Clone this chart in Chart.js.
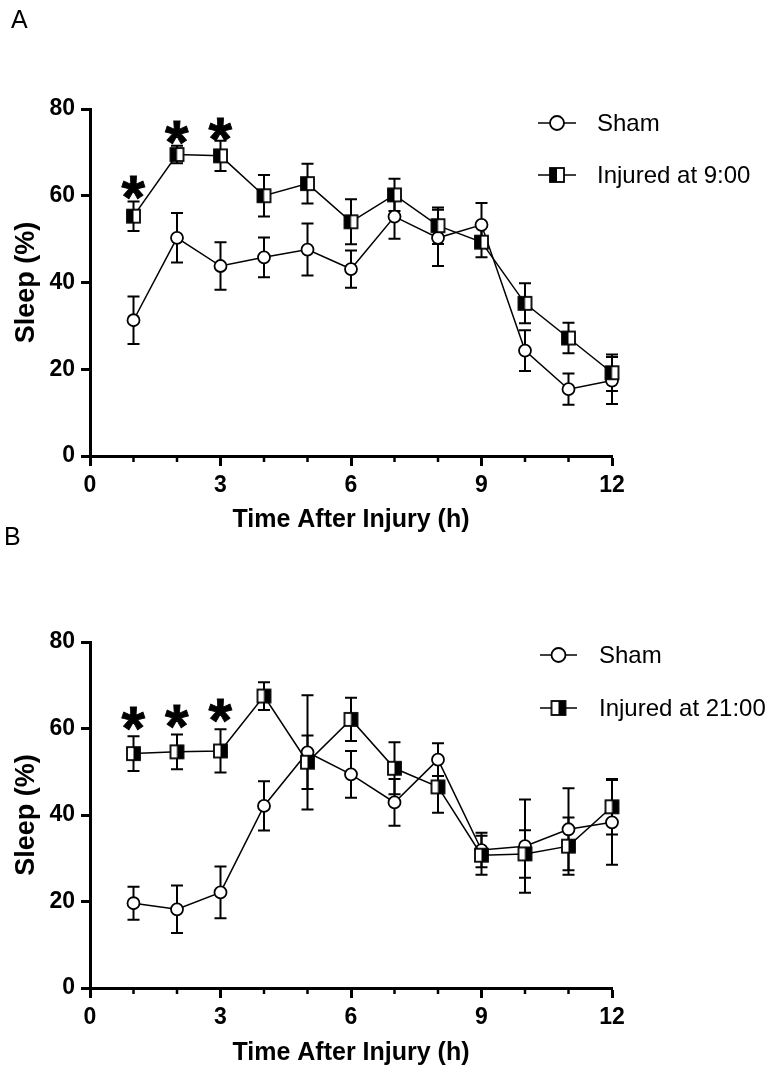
<!DOCTYPE html>
<html>
<head>
<meta charset="utf-8">
<script src="https://cdn.jsdelivr.net/npm/chart.js@4/dist/chart.umd.min.js"></script>
<style>
  body { margin: 0; background: #fff; width: 775px; height: 1074px; position: relative; overflow: hidden; }
  canvas { position: absolute; left: 0; }
  .panel { position: absolute; z-index: 2; font: 25px/25px "Liberation Sans", Arial, sans-serif; color: #000; }
</style>
</head>
<body>
<canvas id="chartA" width="775" height="537" style="top:0"></canvas>
<canvas id="chartB" width="775" height="537" style="top:537px"></canvas>
<div class="panel" style="left:11px;top:7px">A</div>
<div class="panel" style="left:4px;top:524px">B</div>
<script>
// hours after injury
var hours = [1, 2, 3, 4, 5, 6, 7, 8, 9, 10, 11, 12];
var xTickLabels = [0, 3, 6, 9, 12];

// panel A - injured at 9:00
var shamA       = [31.3, 50.3, 43.8, 45.8, 47.6, 43.1, 55.2, 50.3, 53.3, 24.3, 15.4, 17.4];
var shamA_sem   = [5.5, 5.7, 5.5, 4.6, 6.0, 4.3, 5.1, 6.5, 5.0, 4.7, 3.6, 5.4];
var injA        = [55.3, 69.5, 69.2, 60.0, 62.8, 54.0, 60.2, 53.1, 49.3, 35.2, 27.2, 19.2];
var injA_sem    = [3.4, 2.0, 3.5, 4.8, 4.6, 5.2, 3.7, 4.2, 3.5, 4.6, 3.5, 4.2];
var starsA_x    = [1, 2, 3];
var starsA_y    = [62.0, 74.6, 75.3];

// panel B - injured at 21:00
var shamB       = [19.6, 18.2, 22.1, 42.1, 54.5, 49.4, 42.9, 52.8, 31.9, 32.8, 36.7, 38.3];
var shamB_sem   = [3.8, 5.5, 6.0, 5.7, 13.2, 5.4, 5.4, 3.8, 4.0, 10.8, 9.5, 9.8];
var injB        = [54.2, 54.6, 54.8, 67.5, 52.2, 62.1, 50.8, 46.5, 30.7, 31.0, 32.8, 41.9];
var injB_sem    = [4.0, 4.0, 5.0, 3.2, 6.2, 5.0, 6.0, 6.0, 4.5, 5.5, 6.6, 6.4];
var starsB_x    = [1, 2, 3];
var starsB_y    = [62.4, 62.7, 64.2];

var FONT = '"Liberation Sans", Arial, sans-serif';

function halfSquare(size, side) {
  var c = document.createElement('canvas');
  c.width = size + 4; c.height = size + 4;
  var g = c.getContext('2d');
  g.fillStyle = '#fff';
  g.fillRect(2, 2, size, size);
  g.fillStyle = '#000';
  if (side === 'left') g.fillRect(2, 2, size / 2, size);
  else g.fillRect(2 + size / 2, 2, size / 2, size);
  g.lineWidth = 1.8;
  g.strokeStyle = '#000';
  g.strokeRect(2, 2, size, size);
  return c;
}

function pts(vals) {
  return hours.map(function (h, i) { return { x: h, y: vals[i] }; });
}

var errorBars = {
  id: 'errorBars',
  beforeDatasetsDraw: function (chart) {
    var ctx = chart.ctx, xs = chart.scales.x, ys = chart.scales.y;
    ctx.save();
    ctx.strokeStyle = '#000';
    ctx.lineWidth = 2;
    chart.data.datasets.forEach(function (ds) {
      ds.data.forEach(function (p, i) {
        var px = xs.getPixelForValue(p.x);
        var top = ys.getPixelForValue(p.y + ds.sem[i]);
        var bot = ys.getPixelForValue(p.y - ds.sem[i]);
        ctx.beginPath();
        ctx.moveTo(px, top); ctx.lineTo(px, bot);
        ctx.moveTo(px - 6, top); ctx.lineTo(px + 6, top);
        ctx.moveTo(px - 6, bot); ctx.lineTo(px + 6, bot);
        ctx.stroke();
      });
    });
    ctx.restore();
  }
};

var extras = {
  id: 'extras',
  afterDraw: function (chart, args, o) {
    var ctx = chart.ctx, xs = chart.scales.x, ys = chart.scales.y, area = chart.chartArea;
    ctx.save();
    // minor x ticks
    ctx.strokeStyle = '#000';
    ctx.lineWidth = 2.5;
    for (var v = 0; v <= 12; v++) {
      if (v % 3 === 0) continue;
      var tx = xs.getPixelForValue(v);
      ctx.beginPath();
      ctx.moveTo(tx, area.bottom);
      ctx.lineTo(tx, area.bottom + 6);
      ctx.stroke();
    }
    // asterisks
    ctx.fillStyle = '#000';
    ctx.font = 'bold 50px ' + FONT;
    var m = ctx.measureText('*');
    var h = m.actualBoundingBoxAscent + m.actualBoundingBoxDescent;
    var size = 50 * 23 / h;
    ctx.font = 'bold ' + size + 'px ' + FONT;
    m = ctx.measureText('*');
    ctx.textAlign = 'left';
    ctx.textBaseline = 'alphabetic';
    var midY = (m.actualBoundingBoxAscent - m.actualBoundingBoxDescent) / 2;
    var midX = (m.actualBoundingBoxRight - m.actualBoundingBoxLeft) / 2;
    ctx.strokeStyle = '#000';
    ctx.lineWidth = 0.8;
    o.starsX.forEach(function (xv, i) {
      var sx = xs.getPixelForValue(xv) - midX, sy = ys.getPixelForValue(o.starsY[i]) + midY;
      ctx.fillText('*', sx, sy);
      ctx.strokeText('*', sx, sy);
    });
    // legend
    ctx.font = '24px ' + FONT;
    ctx.textBaseline = 'middle';
    o.legend.forEach(function (it, i) {
      var y = o.legendY[i];
      ctx.lineWidth = 1.5;
      ctx.beginPath();
      ctx.moveTo(o.legendX[0], y);
      ctx.lineTo(o.legendX[1], y);
      ctx.stroke();
      var cx = (o.legendX[0] + o.legendX[1]) / 2;
      if (it.marker === 'circle') {
        ctx.fillStyle = '#fff';
        ctx.lineWidth = 1.8;
        ctx.beginPath();
        ctx.arc(cx, y, 7, 0, Math.PI * 2);
        ctx.fill();
        ctx.stroke();
      } else {
        ctx.drawImage(it.img, cx - it.img.width / 2, y - it.img.height / 2);
      }
      ctx.fillStyle = '#000';
      ctx.fillText(it.label, o.legendX[2], y + 1);
    });
    ctx.restore();
  }
};

function makeChart(id, cfg) {
  var sq = halfSquare(13, cfg.side);
  var sqLegend = halfSquare(14, cfg.side);
  return new Chart(document.getElementById(id), {
    type: 'line',
    data: {
      datasets: [
        {
          label: cfg.injLabel,
          data: pts(cfg.inj),
          sem: cfg.injSem,
          borderColor: '#000',
          borderWidth: 1.5,
          pointStyle: sq,
          pointRadius: 7,
          clip: false
        },
        {
          label: 'Sham',
          data: pts(cfg.sham),
          sem: cfg.shamSem,
          borderColor: '#000',
          borderWidth: 1.5,
          pointStyle: 'circle',
          pointRadius: 6,
          pointBorderWidth: 1.8,
          pointBackgroundColor: '#fff',
          pointBorderColor: '#000',
          clip: false
        }
      ]
    },
    options: {
      responsive: false,
      animation: false,
      events: [],
      devicePixelRatio: 1,
      layout: { padding: { top: cfg.top, right: 163, left: 0, bottom: 0 } },
      scales: {
        x: {
          type: 'linear',
          min: 0, max: 12,
          afterFit: function (s) { s.height = 537 - cfg.bottom; },
          border: { display: true, color: '#000', width: 3 },
          grid: {
            drawOnChartArea: false, drawTicks: true, tickLength: 10, tickWidth: 3,
            tickColor: function (c) { return c.tick && c.tick.value % 3 === 0 ? '#000' : 'rgba(0,0,0,0)'; }
          },
          ticks: {
            stepSize: 1, autoSkip: false, maxRotation: 0, padding: cfg.xPad,
            color: '#000',
            font: { family: FONT, size: 23, weight: 'bold' },
            callback: function (v) { return xTickLabels.indexOf(v) >= 0 ? String(v) : ''; }
          },
          title: {
            display: true, text: 'Time After Injury (h)', color: '#000',
            font: { family: FONT, size: 25, weight: 'bold', lineHeight: 1 },
            padding: { top: 0, bottom: cfg.titlePad }
          }
        },
        y: {
          min: 0, max: 80,
          afterFit: function (s) { s.width = 90; },
          border: { display: true, color: '#000', width: 3 },
          grid: { drawOnChartArea: false, drawTicks: true, tickLength: 9, tickWidth: 3, tickColor: '#000' },
          ticks: {
            stepSize: 20, padding: 6, color: '#000',
            font: { family: FONT, size: 23, weight: 'bold' }
          },
          title: {
            display: true, text: 'Sleep (%)', color: '#000',
            font: { family: FONT, size: 27, weight: 'bold', lineHeight: 1 },
            padding: { top: 13.5, bottom: 0 }
          }
        }
      },
      plugins: {
        legend: { display: false },
        tooltip: { enabled: false },
        extras: {
          starsX: cfg.starsX, starsY: cfg.starsY,
          legend: [
            { label: 'Sham', marker: 'circle' },
            { label: cfg.injLabel, marker: 'square', img: sqLegend }
          ],
          legendX: cfg.legendX,
          legendY: cfg.legendY
        }
      }
    },
    plugins: [errorBars, extras]
  });
}

makeChart('chartA', {
  sham: shamA, shamSem: shamA_sem, inj: injA, injSem: injA_sem,
  starsX: starsA_x, starsY: starsA_y, side: 'left', injLabel: 'Injured at 9:00',
  top: 109, bottom: 456, xPad: 5.5, titlePad: 4.5,
  legendX: [538, 576, 597], legendY: [123, 175]
});

makeChart('chartB', {
  sham: shamB, shamSem: shamB_sem, inj: injB, injSem: injB_sem,
  starsX: starsB_x, starsY: starsB_y, side: 'right', injLabel: 'Injured at 21:00',
  top: 105, bottom: 451, xPad: 5.8, titlePad: 8.5,
  legendX: [540, 577, 599], legendY: [118, 171]
});
</script>
</body>
</html>
